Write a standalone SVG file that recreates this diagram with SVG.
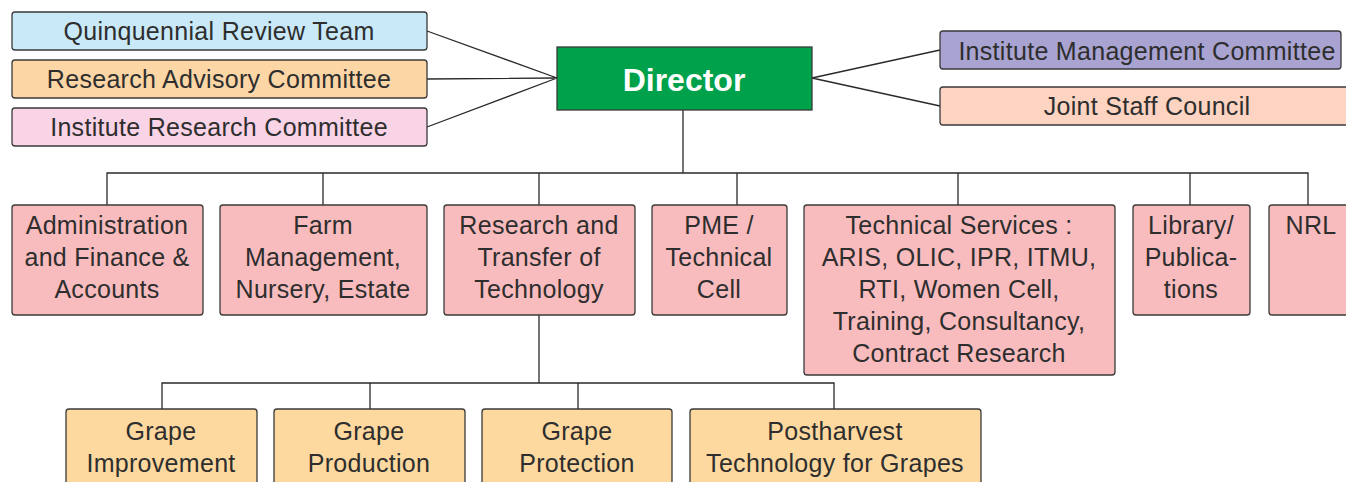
<svg xmlns="http://www.w3.org/2000/svg" width="1346" height="482" viewBox="0 0 1346 482">
<style>
.b{stroke:#3a3a3a;stroke-width:1.3}
.t{font-family:"Liberation Sans",Arial,sans-serif;font-size:25px;fill:#2e2e2e;text-anchor:middle;letter-spacing:0.3px}
.c{fill:none;stroke:#2a2a2a;stroke-width:1.3}
.pk{fill:#F9BCBE}
.or{fill:#FDD9A0}
</style>
<rect width="1346" height="482" fill="#ffffff"/>
<g id="connectors" class="c">
<path d="M427,31 L557,78 M427,79 L557,78 M427,127 L557,78"/>
<path d="M812,78 L940,50 M812,78 L940,106"/>
<path d="M683,110 V173 M107,205 V173 H1308 V205 M323,173 V205 M539,173 V205 M737,173 V205 M958,173 V205 M1190,173 V205"/>
<path d="M539,315 V383 M162,409 V383 H834 V409 M370,383 V409 M578,383 V409"/>
</g>
<g id="qrt"><rect class="b" x="12" y="12" width="415" height="38" rx="3" fill="#C9E9F8"/><text class="t" x="219" y="40">Quinquennial Review Team</text></g>
<g id="rac"><rect class="b" x="12" y="60" width="415" height="38" rx="3" fill="#FDD6A6"/><text class="t" x="219" y="88">Research Advisory Committee</text></g>
<g id="irc"><rect class="b" x="12" y="108" width="415" height="38" rx="3" fill="#F9D3E6"/><text class="t" x="219" y="136">Institute Research Committee</text></g>
<g id="director"><rect x="557" y="47" width="255" height="63" fill="#00A14B" stroke="#3a3a3a" stroke-width="1.3"/><text x="684" y="91" font-family="'Liberation Sans',Arial,sans-serif" font-size="32" font-weight="bold" fill="#ffffff" text-anchor="middle">Director</text></g>
<g id="imc"><rect class="b" x="940" y="31" width="401" height="38" rx="3" fill="#A9A3D1"/><text class="t" x="1147" y="60">Institute Management Committee</text></g>
<g id="jsc"><rect class="b" x="940" y="87" width="410" height="38" rx="3" fill="#FDD3C1"/><text class="t" x="1147" y="115">Joint Staff Council</text></g>
<g id="admin"><rect class="b pk" x="12" y="205" width="191" height="110" rx="3"/><text class="t" x="107" y="234">Administration</text><text class="t" x="107" y="266">and Finance &amp;</text><text class="t" x="107" y="298">Accounts</text></g>
<g id="farm"><rect class="b pk" x="220" y="205" width="207" height="110" rx="3"/><text class="t" x="323" y="234">Farm</text><text class="t" x="323" y="266">Management,</text><text class="t" x="323" y="298">Nursery, Estate</text></g>
<g id="rtt"><rect class="b pk" x="444" y="205" width="191" height="110" rx="3"/><text class="t" x="539" y="234">Research and</text><text class="t" x="539" y="266">Transfer of</text><text class="t" x="539" y="298">Technology</text></g>
<g id="pme"><rect class="b pk" x="652" y="205" width="135" height="110" rx="3"/><text class="t" x="719" y="234">PME /</text><text class="t" x="719" y="266">Technical</text><text class="t" x="719" y="298">Cell</text></g>
<g id="tech"><rect class="b pk" x="804" y="205" width="311" height="170" rx="3"/><text class="t" x="959" y="234">Technical Services :</text><text class="t" x="959" y="266">ARIS, OLIC, IPR, ITMU,</text><text class="t" x="959" y="298">RTI, Women Cell,</text><text class="t" x="959" y="330">Training, Consultancy,</text><text class="t" x="959" y="362">Contract Research</text></g>
<g id="library"><rect class="b pk" x="1133" y="205" width="117" height="110" rx="3"/><text class="t" x="1191" y="234">Library/</text><text class="t" x="1191" y="266">Publica-</text><text class="t" x="1191" y="298">tions</text></g>
<g id="nrl"><rect class="b pk" x="1269" y="205" width="90" height="110" rx="3"/><text class="t" x="1311" y="234">NRL</text></g>
<g id="gi"><rect class="b or" x="66" y="409" width="191" height="90" rx="3"/><text class="t" x="161" y="440">Grape</text><text class="t" x="161" y="472">Improvement</text></g>
<g id="gp"><rect class="b or" x="274" y="409" width="191" height="90" rx="3"/><text class="t" x="369" y="440">Grape</text><text class="t" x="369" y="472">Production</text></g>
<g id="gpr"><rect class="b or" x="482" y="409" width="190" height="90" rx="3"/><text class="t" x="577" y="440">Grape</text><text class="t" x="577" y="472">Protection</text></g>
<g id="pht"><rect class="b or" x="690" y="409" width="291" height="90" rx="3"/><text class="t" x="835" y="440">Postharvest</text><text class="t" x="835" y="472">Technology for Grapes</text></g>
</svg>
